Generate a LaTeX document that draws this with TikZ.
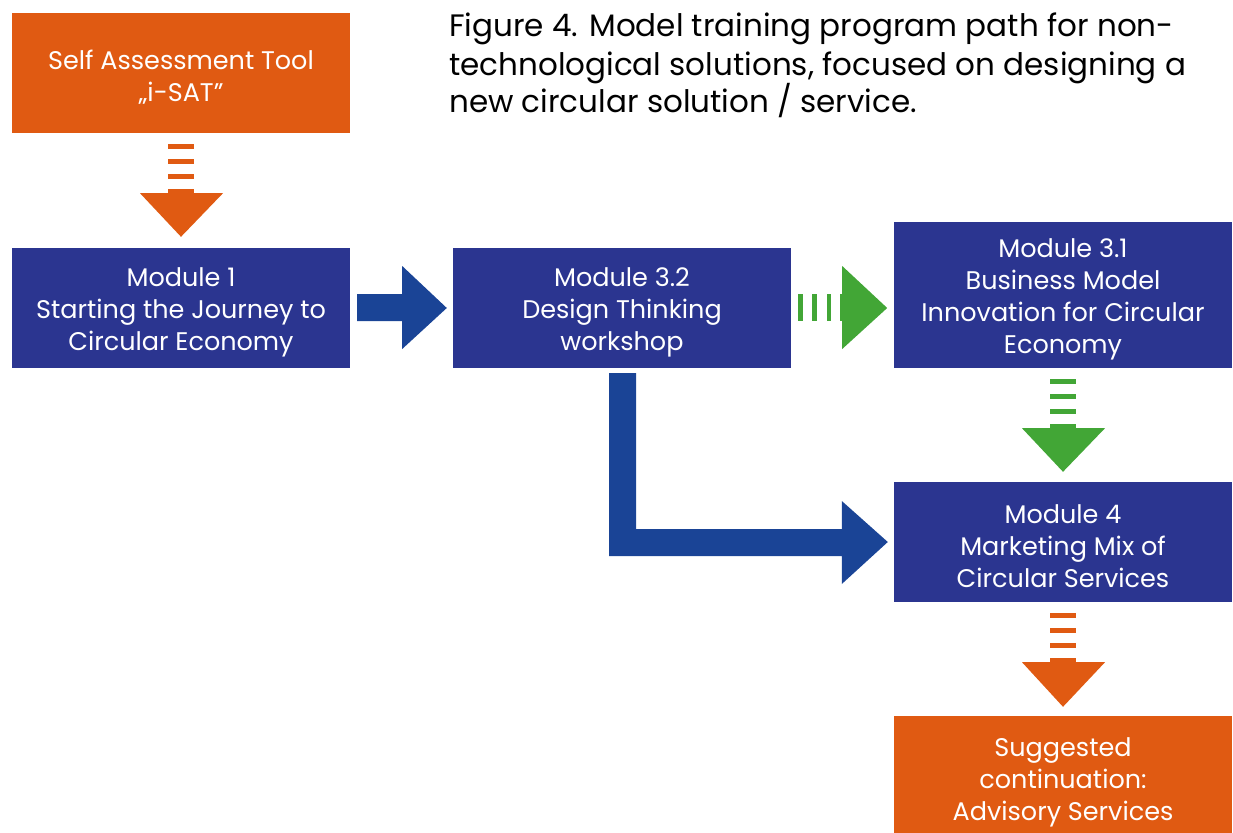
\documentclass[tikz,border=0pt]{standalone}
\usepackage{fontspec}
\setmainfont{Poppins}
\usetikzlibrary{calc}
\definecolor{navy}{HTML}{2B3590}
\definecolor{arrowblue}{HTML}{1A4496}
\definecolor{orng}{HTML}{E05A12}
\definecolor{grn}{HTML}{42A636}
\newcommand\lift{\rule{0pt}{27pt}}
% dashed block arrow pointing down: colour, source anchor, tip coordinate
\newcommand\dashdown[3]{%
  \fill[#1] ($(#2)+(-13,11)$) rectangle ($(#2)+(13,16)$);
  \fill[#1] ($(#2)+(-13,26)$) rectangle ($(#2)+(13,31)$);
  \fill[#1] ($(#2)+(-13,41)$) rectangle ($(#2)+(13,46)$);
  \fill[#1] ($(#2)+(-13,56)$) rectangle ($(#2)+(13,60)$);
  \fill[#1] ($(#2)+(-41,60)$) -- ($(#2)+(42,60)$) -- (#3) -- cycle;
}
\begin{document}
\begin{tikzpicture}[x=1pt,y=-1pt,
  box/.style={fill=navy, text=white, align=center, inner sep=0pt,
    minimum width=338pt, font=\fontsize{25.5}{32}\selectfont},
  obox/.style={box, fill=orng},
  title/.style={anchor=base west, inner sep=0pt, font=\fontsize{31}{38}\selectfont, text=black}
]
\useasboundingbox (0,0) rectangle (1233,832);

\node[title] (t1) at (449,37) {Figure 4. Model training program path for non-};
\node[title] (t2) at (449,76) {technological solutions, focused on designing a};
\node[title] (t3) at (449,113) {new circular solution / service.};

\node[obox, minimum height=120pt] (sat) at (181,73) {\lift Self Assessment Tool\\„i-SAT”};
\node[box, minimum height=120pt] (m1) at (181,308) {\lift Module 1\\Starting the Journey to\\Circular Economy};
\node[box, minimum height=120pt] (m32) at (622,308) {\lift Module 3.2\\Design Thinking\\workshop};
\node[box, minimum height=146pt] (m31) at (1063,295) {\lift Module 3.1\\Business Model\\Innovation for Circular\\Economy};
\node[box, minimum height=120pt] (m4) at (1063,542) {\lift Module 4\\Marketing Mix of\\Circular Services};
\node[obox, minimum height=124pt] (sug) at (1063,778) {\lift Suggested\\continuation:\\Advisory Services};

% orange dashed arrow sat -> m1
\dashdown{orng}{sat.south}{$(m1.north)+(0,-11)$}
% green dashed arrow m31 -> m4
\dashdown{grn}{m31.south}{$(m4.north)+(0,-10)$}
% orange dashed arrow m4 -> sug
\dashdown{orng}{m4.south}{$(sug.north)+(0,-9)$}

% blue arrow m1 -> m32
\fill[arrowblue] ($(m1.east)+(7,-14)$) -- ($(m1.east)+(52,-14)$) -- ($(m1.east)+(52,-42)$)
  -- ($(m32.west)+(-6,0)$) -- ($(m1.east)+(52,41)$) -- ($(m1.east)+(52,13)$)
  -- ($(m1.east)+(7,13)$) -- cycle;

% green dashed arrow m32 -> m31
\foreach \a/\b in {7/12, 21/26, 36/40, 49/51}{
  \fill[grn] ($(m32.east)+(\a,-14)$) rectangle ($(m32.east)+(\b,13)$);
}
\fill[grn] ($(m32.east)+(51,-42)$) -- ($(m32.east)+(96,0)$) -- ($(m32.east)+(51,41)$) -- cycle;

% blue L arrow m32 -> m4
\fill[arrowblue] ($(m32.south)+(-13,5)$) -- ($(m32.south)+(14,5)$)
  |- ($(m4.west)+(-52,-13)$) -- ($(m4.west)+(-52,-41)$) -- ($(m4.west)+(-6,0)$)
  -- ($(m4.west)+(-52,42)$) -- ($(m4.west)+(-52,14)$) -| cycle;
\end{tikzpicture}
\end{document}
